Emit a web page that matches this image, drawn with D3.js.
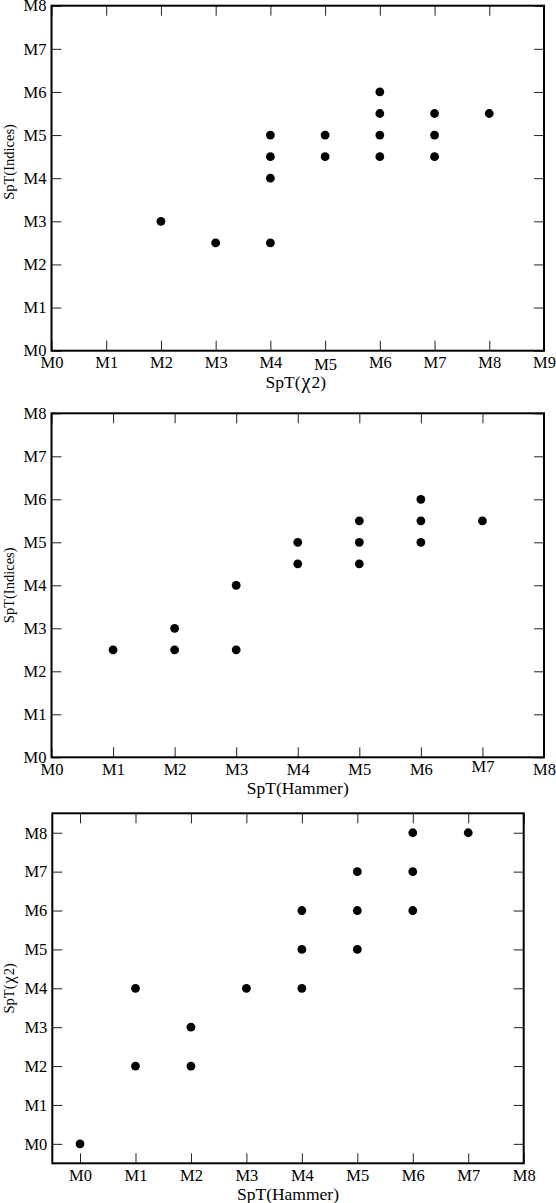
<!DOCTYPE html>
<html>
<head>
<meta charset="utf-8">
<script src="https://cdn.jsdelivr.net/npm/d3@7"></script>
<style>
  html, body { margin: 0; padding: 0; background: #fff; }
  svg text { font-family: "Liberation Serif", "Times New Roman", Times, "DejaVu Serif", serif !important; }
</style>
</head>
<body>
<svg id="chart" width="556" height="1203"></svg>
<script>
// ---- Panel 1: SpT(chi2) vs SpT(Indices)
const p1Chi2    = [2, 3, 4, 4, 4, 4, 5, 5, 6, 6, 6, 6, 7, 7, 7, 8];
const p1Indices = [3, 2.5, 2.5, 4, 4.5, 5, 4.5, 5, 4.5, 5, 5.5, 6, 4.5, 5, 5.5, 5.5];
const p1XTicks  = [0, 1, 2, 3, 4, 5, 6, 7, 8, 9];
const p1YTicks  = [0, 1, 2, 3, 4, 5, 6, 7, 8];

// ---- Panel 2: SpT(Hammer) vs SpT(Indices)
const p2Hammer  = [1, 2, 2, 3, 3, 4, 4, 5, 5, 5, 6, 6, 6, 7];
const p2Indices = [2.5, 2.5, 3, 2.5, 4, 4.5, 5, 4.5, 5, 5.5, 5, 5.5, 6, 5.5];
const p2XTicks  = [0, 1, 2, 3, 4, 5, 6, 7, 8];
const p2YTicks  = [0, 1, 2, 3, 4, 5, 6, 7, 8];

// ---- Panel 3: SpT(Hammer) vs SpT(chi2)
const p3Hammer  = [0, 1, 1, 2, 2, 3, 4, 4, 4, 5, 5, 5, 6, 6, 6, 7];
const p3Chi2    = [0, 2, 4, 2, 3, 4, 4, 5, 6, 5, 6, 7, 6, 7, 8, 8];
const p3XTicks  = [0, 1, 2, 3, 4, 5, 6, 7, 8];
const p3YTicks  = [0, 1, 2, 3, 4, 5, 6, 7, 8];

const svg = d3.select("#chart");
const fmt = d => "M" + d;
const TICK_FS = 16.5;

function drawPanel(cfg) {
  const g = svg.append("g");
  const x = d3.scaleLinear().domain(cfg.xDomain).range([cfg.left, cfg.right]);
  const y = d3.scaleLinear().domain(cfg.yDomain).range([cfg.bottom, cfg.top]);

  const style = sel => {
    sel.attr("font-size", TICK_FS);
    sel.select(".domain").remove();
    sel.selectAll(".tick line").attr("stroke", "#222").attr("stroke-width", 1);
    sel.selectAll(".tick text").attr("fill", "#000").attr("font-size", TICK_FS);
  };

  // bottom axis (labels)
  const gb = g.append("g").attr("transform", `translate(0,${cfg.bottom})`)
    .call(d3.axisBottom(x).tickValues(cfg.xTicks).tickSize(-10).tickPadding(6).tickFormat(fmt));
  style(gb);
  gb.selectAll(".tick text").attr("dy", d => (0.69 * TICK_FS + ((cfg.xLabelShift && cfg.xLabelShift[d]) || 0)) + "px");
  // top axis (ticks only)
  style(g.append("g").attr("transform", `translate(0,${cfg.top})`)
    .call(d3.axisTop(x).tickValues(cfg.xTicks).tickSize(-10).tickFormat("")));
  // left axis (labels)
  style(g.append("g").attr("transform", `translate(${cfg.left},0)`)
    .call(d3.axisLeft(y).tickValues(cfg.yTicks).tickSize(-10).tickPadding(5).tickFormat(fmt)));
  // right axis (ticks only)
  style(g.append("g").attr("transform", `translate(${cfg.right},0)`)
    .call(d3.axisRight(y).tickValues(cfg.yTicks).tickSize(-10).tickFormat("")));

  // frame
  g.append("rect")
    .attr("x", cfg.left).attr("y", cfg.top)
    .attr("width", cfg.right - cfg.left).attr("height", cfg.bottom - cfg.top)
    .attr("fill", "none").attr("stroke", "#000").attr("stroke-width", 2);

  // points
  g.selectAll("circle.pt").data(cfg.xs.map((v, i) => [v, cfg.ys[i]]))
    .join("circle").attr("class", "pt")
    .attr("cx", d => x(d[0])).attr("cy", d => y(d[1]))
    .attr("r", 4.4).attr("fill", "#000");

  // x title
  const xt = g.append("text")
    .attr("x", (cfg.left + cfg.right) / 2 + (cfg.xTitleDx || 0))
    .attr("y", cfg.bottom + 37)
    .attr("text-anchor", "middle").attr("font-size", 17.5).attr("fill", "#000");
  cfg.xTitle.forEach(p => xt.append("tspan").attr("dx", p[1] || 0)
    .attr("font-size", p[2] || null).text(p[0]));

  // y title
  const yc = cfg.yTitleCenter != null ? cfg.yTitleCenter : (cfg.top + cfg.bottom) / 2;
  const yt = g.append("text")
    .attr("transform", `translate(14,${yc}) rotate(-90)`)
    .attr("text-anchor", "middle").attr("font-size", 14.5).attr("fill", "#000");
  cfg.yTitle.forEach(p => yt.append("tspan").attr("dx", p[1] || 0)
    .attr("font-size", p[2] || null).text(p[0]));
}

drawPanel({
  left: 51.5, right: 544, top: 5.7, bottom: 350.7,
  xDomain: [0, 9], yDomain: [0, 8],
  xTicks: p1XTicks, yTicks: p1YTicks,
  xs: p1Chi2, ys: p1Indices,
  xTitle: [["SpT("], ["χ", 1, 20], ["2)", 1]], yTitle: [["SpT(Indices)"]],
  yTitleCenter: 162, xTitleDx: -2,
  xLabelShift: {5: 1.5}
});
drawPanel({
  left: 51.5, right: 544, top: 413.3, bottom: 757.3,
  xDomain: [0, 8], yDomain: [0, 8],
  xTicks: p2XTicks, yTicks: p2YTicks,
  xs: p2Hammer, ys: p2Indices,
  xTitle: [["SpT(Hammer)"]], yTitle: [["SpT(Indices)"]],
  xLabelShift: {7: -3}
});
drawPanel({
  left: 52.3, right: 523.7, top: 813.3, bottom: 1163.3,
  xDomain: [-0.5, 8], yDomain: [-0.5, 8.5],
  xTicks: p3XTicks, yTicks: p3YTicks,
  xs: p3Hammer, ys: p3Chi2,
  xTitle: [["SpT(Hammer)"]], yTitle: [["SpT("], ["χ", 1, 16.5], ["2)", 1]]
});
</script>
</body>
</html>
